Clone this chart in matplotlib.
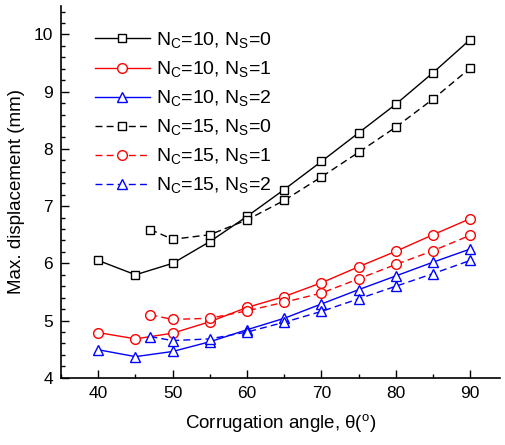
import matplotlib
matplotlib.use('Agg')
import matplotlib.pyplot as plt
from matplotlib.ticker import MultipleLocator

plt.rcParams['font.family'] = ['Liberation Sans', 'DejaVu Sans']
plt.rcParams['mathtext.fontset'] = 'custom'
plt.rcParams['mathtext.rm'] = 'Liberation Sans'

# angles
ang_10 = [40, 45, 50, 55, 60, 65, 70, 75, 80, 85, 90]
ang_15 = [47, 50, 55, 60, 65, 70, 75, 80, 85, 90]

# Nc=10
c10_s0 = [6.05, 5.80, 6.00, 6.38, 6.82, 7.29, 7.78, 8.28, 8.78, 9.33, 9.91]
c10_s1 = [4.79, 4.68, 4.78, 4.98, 5.23, 5.42, 5.66, 5.94, 6.21, 6.50, 6.78]
c10_s2 = [4.49, 4.37, 4.46, 4.63, 4.84, 5.04, 5.29, 5.54, 5.78, 6.02, 6.25]
# Nc=15
c15_s0 = [6.59, 6.42, 6.50, 6.76, 7.10, 7.51, 7.94, 8.38, 8.87, 9.41]
c15_s1 = [5.10, 5.02, 5.04, 5.17, 5.32, 5.48, 5.73, 5.98, 6.22, 6.49]
c15_s2 = [4.72, 4.65, 4.68, 4.80, 4.97, 5.16, 5.38, 5.60, 5.82, 6.05]

labels = [r'N$_\mathregular{C}$=10, N$_\mathregular{S}$=0',
          r'N$_\mathregular{C}$=10, N$_\mathregular{S}$=1',
          r'N$_\mathregular{C}$=10, N$_\mathregular{S}$=2',
          r'N$_\mathregular{C}$=15, N$_\mathregular{S}$=0',
          r'N$_\mathregular{C}$=15, N$_\mathregular{S}$=1',
          r'N$_\mathregular{C}$=15, N$_\mathregular{S}$=2']

fig = plt.figure(figsize=(5.05, 4.45), dpi=100)
ax = fig.add_axes([0.121, 0.151, 0.869, 0.836])

kw = dict(lw=1.0, mfc='white', mew=1.0)
dash = dict(ls=(0, (5, 3)))
ax.plot(ang_10, c10_s0, '-', color='black', marker='s', ms=5.5, label=labels[0], **kw)
ax.plot(ang_10, c10_s1, '-', color='red', marker='o', ms=7, label=labels[1], **kw)
ax.plot(ang_10, c10_s2, '-', color='blue', marker='^', ms=7.5, label=labels[2], **kw)
ax.plot(ang_15, c15_s0, color='black', marker='s', ms=5.5, label=labels[3], **dash, **kw)
ax.plot(ang_15, c15_s1, color='red', marker='o', ms=7, label=labels[4], **dash, **kw)
ax.plot(ang_15, c15_s2, color='blue', marker='^', ms=7.5, label=labels[5], **dash, **kw)

ax.set_xlim(35, 94)
ax.set_ylim(4, 10.5)
ax.xaxis.set_major_locator(MultipleLocator(10))
ax.xaxis.set_minor_locator(MultipleLocator(5))
ax.yaxis.set_major_locator(MultipleLocator(1))
ax.yaxis.set_minor_locator(MultipleLocator(0.2))
ax.tick_params(which='both', direction='in', labelsize=12.5, width=1)
ax.tick_params(which='major', length=6, pad=6)
ax.tick_params(which='minor', length=3)
for s in ['top', 'right']:
    ax.spines[s].set_visible(False)
for s in ['left', 'bottom']:
    ax.spines[s].set_linewidth(1.2)

ax.set_xlabel('Corrugation angle, θ($^\mathregular{o}$)', fontsize=13.5, labelpad=8)
ax.set_ylabel('Max. displacement (mm)', fontsize=13.5, labelpad=6)

ax.legend(loc='upper left', frameon=False, fontsize=14, handlelength=2.8,
          handletextpad=0.35, labelspacing=0.45, borderaxespad=0.0,
          bbox_to_anchor=(0.06, 0.955))

fig.savefig('out.png', dpi=100)
